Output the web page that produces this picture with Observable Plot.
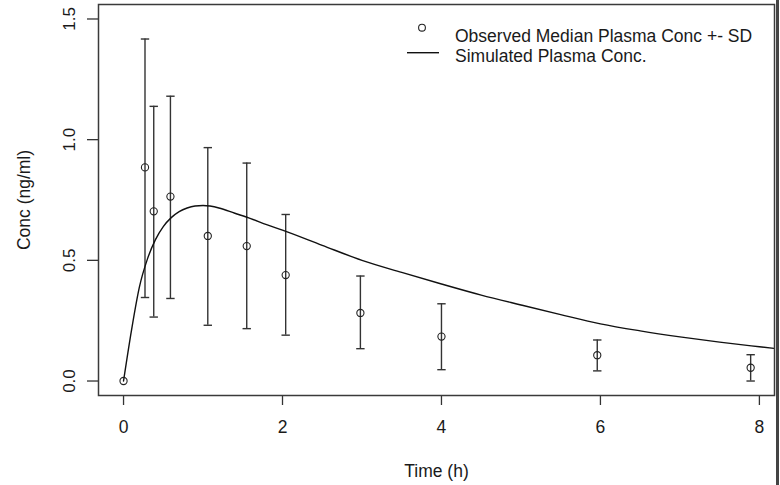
<!DOCTYPE html>
<html><head><meta charset="utf-8">
<script src="https://cdn.jsdelivr.net/npm/d3@7"></script>
<script src="https://cdn.jsdelivr.net/npm/@observablehq/plot@0.6"></script>
<style>
body{margin:0;background:#fff;}
#wrap{position:relative;width:780px;height:485px;overflow:hidden;background:#fff;}
#edge{position:absolute;left:776px;top:0;width:3px;height:485px;background:#444;}
</style></head><body>
<div id="wrap"><div id="chart"></div><div id="edge"></div></div>
<script>
// Observed median plasma concentration +- SD
const obsTime = [0, 0.27, 0.38, 0.59, 1.06, 1.55, 2.04, 2.98, 4.0, 5.96, 7.89];
const obsConc = [0, 0.885, 0.703, 0.764, 0.601, 0.559, 0.439, 0.282, 0.184, 0.107, 0.055];
const obsLow  = [0, 0.346, 0.265, 0.342, 0.231, 0.217, 0.190, 0.134, 0.047, 0.042, 0.000];
const obsHigh = [0, 1.417, 1.138, 1.180, 0.967, 0.903, 0.690, 0.435, 0.320, 0.170, 0.109];

// Simulated plasma concentration
const simTime = [0, 0.1, 0.2, 0.3, 0.4, 0.5, 0.6, 0.7, 0.8, 0.9, 1.0, 1.2, 1.4, 1.6, 1.8, 2.0, 2.5, 3.0, 3.5, 4.0, 4.5, 5.0, 5.5, 6.0, 6.5, 7.0, 7.5, 8.0, 8.3];
const simConc = [0, 0.21, 0.39, 0.505, 0.585, 0.64, 0.677, 0.702, 0.717, 0.725, 0.727, 0.717, 0.695, 0.673, 0.648, 0.625, 0.562, 0.500, 0.450, 0.402, 0.356, 0.315, 0.275, 0.237, 0.208, 0.183, 0.161, 0.142, 0.131];

const xTicks = [0, 2, 4, 6, 8];
const yTicks = [0, 0.5, 1.0, 1.5];
const yTickLabels = ["0.0", "0.5", "1.0", "1.5"];
const xTitle = "Time (h)";
const yTitle = "Conc (ng/ml)";
const legendLabels = ["Observed Median Plasma Conc +- SD", "Simulated Plasma Conc."];

const obs = obsTime.map((t, i) => ({t, c: obsConc[i], lo: obsLow[i], hi: obsHigh[i]}));
const bars = obs.filter(d => d.hi > d.lo);
const caps = bars.flatMap(d => [{t: d.t, c: d.lo}, {t: d.t, c: d.hi}]);
const sim = simTime.map((t, i) => ({t, c: simConc[i]}));

const capSymbol = {draw(ctx) { ctx.moveTo(-4.2, 0); ctx.lineTo(4.2, 0); }};
const ink = "#222";
const font = "'Liberation Sans', Arial, Helvetica, sans-serif";

const chart = Plot.plot({
  width: 780, height: 485,
  marginLeft: 98, marginRight: 6, marginTop: 4, marginBottom: 90,
  x: {domain: [-0.315, 8.19]},
  y: {domain: [-0.06, 1.56]},
  style: {fontFamily: font, color: "#1a1a1a", background: "white", overflow: "visible"},
  marks: [
    Plot.axisX({ticks: xTicks, tickSize: 10, tickPadding: 15, fontSize: 17.5, label: null, stroke: "#333", strokeWidth: 1.3, tickFormat: d => String(d)}),
    Plot.axisY({ticks: yTicks, tickSize: 11, tickFormat: () => "", label: null, stroke: "#333", strokeWidth: 1.3}),
    Plot.text(yTicks, {y: d => d, text: (d, i) => yTickLabels[i], frameAnchor: "left", dx: -24, rotate: -90, lineAnchor: "bottom", textAnchor: "middle", fontSize: 17, fill: "#1a1a1a"}),
    Plot.text([xTitle], {frameAnchor: "bottom", dy: 81, lineAnchor: "bottom", textAnchor: "middle", fontSize: 17.5, fill: "#1a1a1a"}),
    Plot.text([yTitle], {frameAnchor: "left", dx: -69, rotate: -90, lineAnchor: "bottom", textAnchor: "middle", fontSize: 17.5, fill: "#1a1a1a"}),
    Plot.ruleX(bars, {x: "t", y1: "lo", y2: "hi", stroke: "#333", strokeWidth: 1.4}),
    Plot.dot(caps, {x: "t", y: "c", symbol: capSymbol, stroke: "#333", strokeWidth: 1.4, fill: "none"}),
    Plot.line(sim, {x: "t", y: "c", curve: "monotone-x", stroke: "#111", strokeWidth: 1.4, clip: true}),
    Plot.dot(obs, {x: "t", y: "c", r: 3.6, stroke: ink, strokeWidth: 1.1, fill: "none"}),
    Plot.frame({stroke: "#3a3a3a", strokeWidth: 1.5})
  ]
});

// Legend (inside the plot area, top right)
const svg = d3.select(chart);
const lg = svg.append("g").attr("font-family", font).attr("font-size", 17.5).attr("fill", "#1a1a1a").attr("text-anchor", "start");
lg.append("circle").attr("cx", 422).attr("cy", 27.7).attr("r", 3.4).attr("fill", "none").attr("stroke", ink).attr("stroke-width", 1.1);
lg.append("line").attr("x1", 407).attr("x2", 439).attr("y1", 52.7).attr("y2", 52.7).attr("stroke", "#111").attr("stroke-width", 1.4);
lg.append("text").attr("x", 455).attr("y", 42.3).attr("text-anchor", "start").text(legendLabels[0]);
lg.append("text").attr("x", 455).attr("y", 61.6).attr("text-anchor", "start").text(legendLabels[1]);

document.getElementById("chart").appendChild(chart);
</script>
</body></html>
